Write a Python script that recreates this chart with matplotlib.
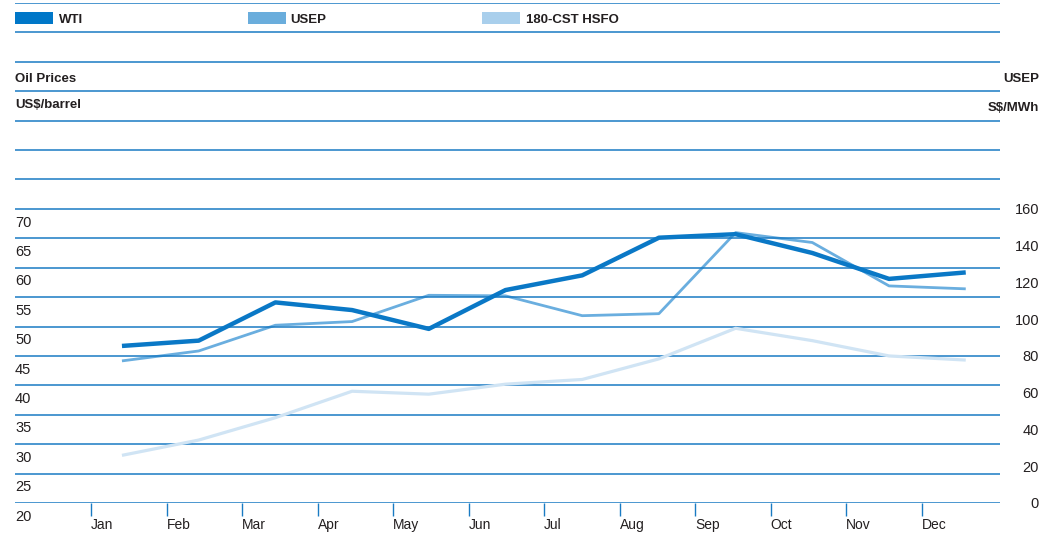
import numpy as np
import matplotlib
matplotlib.use("Agg")
import matplotlib.pyplot as plt
from matplotlib.patches import Rectangle

plt.rcParams['font.family'] = ['Liberation Sans', 'DejaVu Sans']

# ---- data ----
months = ["Jan", "Feb", "Mar", "Apr", "May", "Jun", "Jul", "Aug", "Sep", "Oct", "Nov", "Dec"]
wti = [46.7, 47.6, 54.1, 52.8, 49.6, 56.2, 58.7, 65.1, 65.7, 62.5, 58.1, 59.2]      # US$/barrel
hsfo = [28.1, 30.7, 34.5, 39.0, 38.5, 40.2, 41.0, 44.5, 49.7, 47.6, 45.0, 44.3]     # US$/barrel
usep = [77.3, 82.7, 96.7, 98.7, 113.0, 112.7, 101.9, 103.0, 147.1, 141.7, 118.1, 116.5]  # S$/MWh
left_ticks = [20, 25, 30, 35, 40, 45, 50, 55, 60, 65, 70]
right_ticks = [0, 20, 40, 60, 80, 100, 120, 140, 160]
series_names = ["WTI", "USEP", "180-CST HSFO"]

# ---- styles ----
W, H = 1064, 535
C_WTI = '#0a78c6'
C_USEP = '#6aaedf'
C_HSFO = '#d0e4f4'
C_GRID = '#1a7bc3'
C_TXT = '#231f20'
LEG_COLORS = ['#0077c8', '#6aaddc', '#a9cfec']

fig = plt.figure(figsize=(W / 100, H / 100), dpi=100)

def fx(x):
    return x / W

def fy(y):
    return 1 - y / H

# left axis (US$/barrel): 20 at bottom gridline, 5 units per gridline
ax = fig.add_axes([fx(15), fy(503), (1000 - 15) / W, (503 - 3) / H])
ax.set_ylim(20, 105)
idx = np.arange(len(months))
ax.set_xlim((15 - 91) / 75.5, (1000 - 91) / 75.5)
for s in ax.spines.values():
    s.set_visible(False)

for v in np.arange(20, 105.1, 5):
    ax.axhline(v, color=C_GRID, lw=1.1, zorder=1)

ax.set_xticks(idx)
ax.set_xticklabels(months, ha='left', fontsize=10, color=C_TXT)
ax.tick_params(axis='x', direction='out', length=9, width=1.0, color=C_GRID, pad=2)
ax.set_yticks([])

# points sit inside each month slot
pt_x = 0.41 + 1.016 * idx

# right axis (S$/MWh): 0 at bottom, 160 at the 70 gridline
ax2 = ax.twinx()
ax2.set_ylim(0, (105 - 20) * 3.2)
ax2.set_yticks([])
for s in ax2.spines.values():
    s.set_visible(False)

ax.plot(pt_x, hsfo, color=C_HSFO, lw=2.3, zorder=3, solid_capstyle='butt')
ax2.plot(pt_x, usep, color=C_USEP, lw=2.0, zorder=4, solid_capstyle='butt')
ax.plot(pt_x, wti, color=C_WTI, lw=3.2, zorder=5, solid_capstyle='butt')
ax.set_zorder(ax2.get_zorder() + 1)
ax.patch.set_visible(False)

for v in left_ticks:
    ax.annotate(str(v), xy=(0, v), xycoords=('axes fraction', 'data'),
                xytext=(0, -12.7), textcoords='offset points', va='baseline', ha='left',
                fontsize=10.5, color=C_TXT, annotation_clip=False)

for v in right_ticks:
    ax2.annotate(str(v), xy=((1039 - 15) / 985, v), xycoords=('axes fraction', 'data'),
                 xytext=(0, -3.85), textcoords='offset points', va='baseline', ha='right',
                 fontsize=10.5, color=C_TXT, annotation_clip=False)

fig.text(fx(15), fy(82.3), "Oil Prices", fontsize=9.5, fontweight='bold', color=C_TXT, va='baseline', ha='left')
fig.text(fx(15), fy(108.0), "US$/barrel", fontsize=9.5, fontweight='bold', color=C_TXT, va='baseline', ha='left')
fig.text(fx(1039), fy(81.7), "USEP", fontsize=9.5, fontweight='bold', color=C_TXT, va='baseline', ha='right')
fig.text(fx(1039), fy(111.0), "S$/MWh", fontsize=9.5, fontweight='bold', color=C_TXT, va='baseline', ha='right')

patch_x = [15, 248, 482]
text_x = [59, 290, 526]
for name, col, px_, tx in zip(series_names, LEG_COLORS, patch_x, text_x):
    fig.patches.append(Rectangle((fx(px_), fy(24)), 37.5 / W, 11.5 / H, transform=fig.transFigure,
                                 facecolor=col, edgecolor='none'))
    fig.text(fx(tx), fy(23.3), name, fontsize=9.5, fontweight='bold', color=C_TXT, va='baseline', ha='left')

fig.savefig("out.png", dpi=100)
